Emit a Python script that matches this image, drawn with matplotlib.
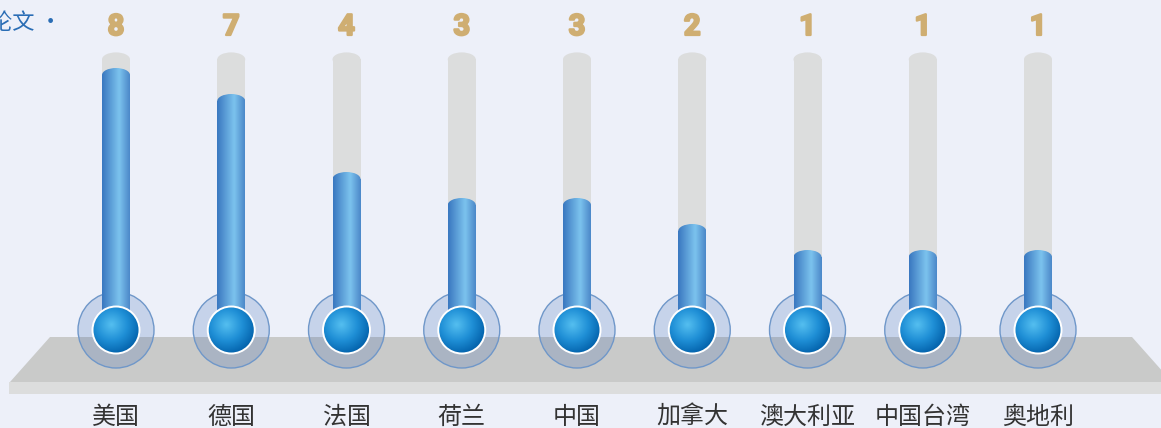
import matplotlib
matplotlib.use("Agg")
import matplotlib.pyplot as plt
import matplotlib.patheffects as pe
import numpy as np
from matplotlib.colors import LinearSegmentedColormap
from matplotlib.patches import Ellipse, Rectangle, Polygon

# data
countries = ['美国', '德国', '法国', '荷兰', '中国', '加拿大', '澳大利亚', '中国台湾', '奥地利']
papers = [8, 7, 4, 3, 3, 2, 1, 1, 1]
track_max = 8.6

plt.rcParams['font.family'] = ['Noto Sans CJK SC', 'DejaVu Sans']

BG = '#edf0f9'
W, H = 1161, 428
# pixel layout -> data mapping
X0, DX = 116, 115.25   # px of first bar, px per category
Y0, DY = 276, 26.0     # px of value 0, px per unit


def px(xp, yp):
    return (xp - X0) / DX, (Y0 - yp) / DY


fig = plt.figure(figsize=(W / 100, H / 100), dpi=100)
fig.patch.set_facecolor(BG)
ax = fig.add_axes([0, 0, 1, 1])
ax.set_facecolor(BG)
ax.axis('off')

# platform
top = [px(50, 337), px(1132, 337), px(1172, 382), px(10, 382)]
ax.add_patch(Polygon(top, closed=True, fc='#c9cac9', ec='none', zorder=1))
fx0, fy0 = px(9, 394)
fx1, fy1 = px(1175, 382)
ax.add_patch(Rectangle((fx0, fy0), fx1 - fx0, fy1 - fy0, fc='#dcdddd', ec='none', zorder=1))

tube_cmap = LinearSegmentedColormap.from_list(
    'tube', [(0, '#3a78c0'), (0.62, '#7cc3ee'), (1, '#4c88c9')])
bulb_cmap = LinearSegmentedColormap.from_list(
    'bulb', [(0, '#55bff0'), (0.55, '#1f8fd6'), (1, '#0565ae')])

hw = 14 / DX          # tube half width
cap = 7 / DY          # half height of rounded top
bulb_y = (Y0 - 330) / DY
r_in, r_out = 23.5, 38.0

grad = np.linspace(0, 1, 64).reshape(1, -1)

for i, (name, v) in enumerate(zip(countries, papers)):
    # outer translucent ring
    ax.add_patch(Ellipse((i, bulb_y), 2 * r_out / DX, 2 * r_out / DY,
                         fc='#2e5fae', alpha=0.2, ec='none', zorder=2))
    ax.add_patch(Ellipse((i, bulb_y), 2 * r_out / DX, 2 * r_out / DY,
                         fc='none', ec='#6f97c9', lw=1.0, zorder=2))

    # grey track
    t_top = track_max - cap
    ax.add_patch(Rectangle((i - hw, bulb_y), 2 * hw, t_top - bulb_y,
                           fc='#dcdddd', ec='none', zorder=3))
    ax.add_patch(Ellipse((i, t_top), 2 * hw, 2 * cap, fc='#dcdddd', ec='none', zorder=3))

    # blue tube with horizontal gradient
    b_top = v - cap
    rect = Rectangle((i - hw, bulb_y), 2 * hw, b_top - bulb_y, transform=ax.transData)
    ell = Ellipse((i, b_top), 2 * hw, 2 * cap, transform=ax.transData)
    for clip in (rect, ell):
        im = ax.imshow(grad, cmap=tube_cmap, aspect='auto', interpolation='bicubic',
                       extent=(i - hw, i + hw, bulb_y, v), zorder=4)
        im.set_clip_path(clip)

    # bulb with radial gradient
    n = 80
    gx, gy = np.meshgrid(np.linspace(-r_in, r_in, n), np.linspace(r_in, -r_in, n))
    d = np.sqrt((gx + 5) ** 2 + (gy - 5) ** 2) / (r_in * 1.25)
    bulb = Ellipse((i, bulb_y), 2 * r_in / DX, 2 * r_in / DY, transform=ax.transData)
    im = ax.imshow(np.clip(d, 0, 1), cmap=bulb_cmap, aspect='auto', interpolation='bicubic',
                   extent=(i - r_in / DX, i + r_in / DX, bulb_y - r_in / DY, bulb_y + r_in / DY),
                   vmin=0, vmax=1, zorder=5)
    im.set_clip_path(bulb)
    ax.add_patch(Ellipse((i, bulb_y), 2 * r_in / DX, 2 * r_in / DY,
                         fc='none', ec='white', lw=1.4, zorder=6))

    # value on top
    ax.text(i, (Y0 - 27) / DY, str(v), ha='center', va='center', fontsize=21,
            fontweight='bold', color='#cfae72', family=['Roboto', 'DejaVu Sans'], zorder=7,
            path_effects=[pe.withStroke(linewidth=1.6, foreground='#cfae72')])
    # country label
    ax.text(i, (Y0 - 417) / DY, name, ha='center', va='center', fontsize=17.3,
            color='#333333', zorder=7)

# clipped title fragment at top left
tx, ty = px(-10, 22)
ax.text(tx, ty, '论文 ·', ha='left', va='center', fontsize=16, color='#2a6db5')

ax.set_xlim(px(0, 0)[0], px(W, 0)[0])
ax.set_ylim(px(0, H)[1], px(0, 0)[1])

fig.savefig('out.png', dpi=100, facecolor=BG)
